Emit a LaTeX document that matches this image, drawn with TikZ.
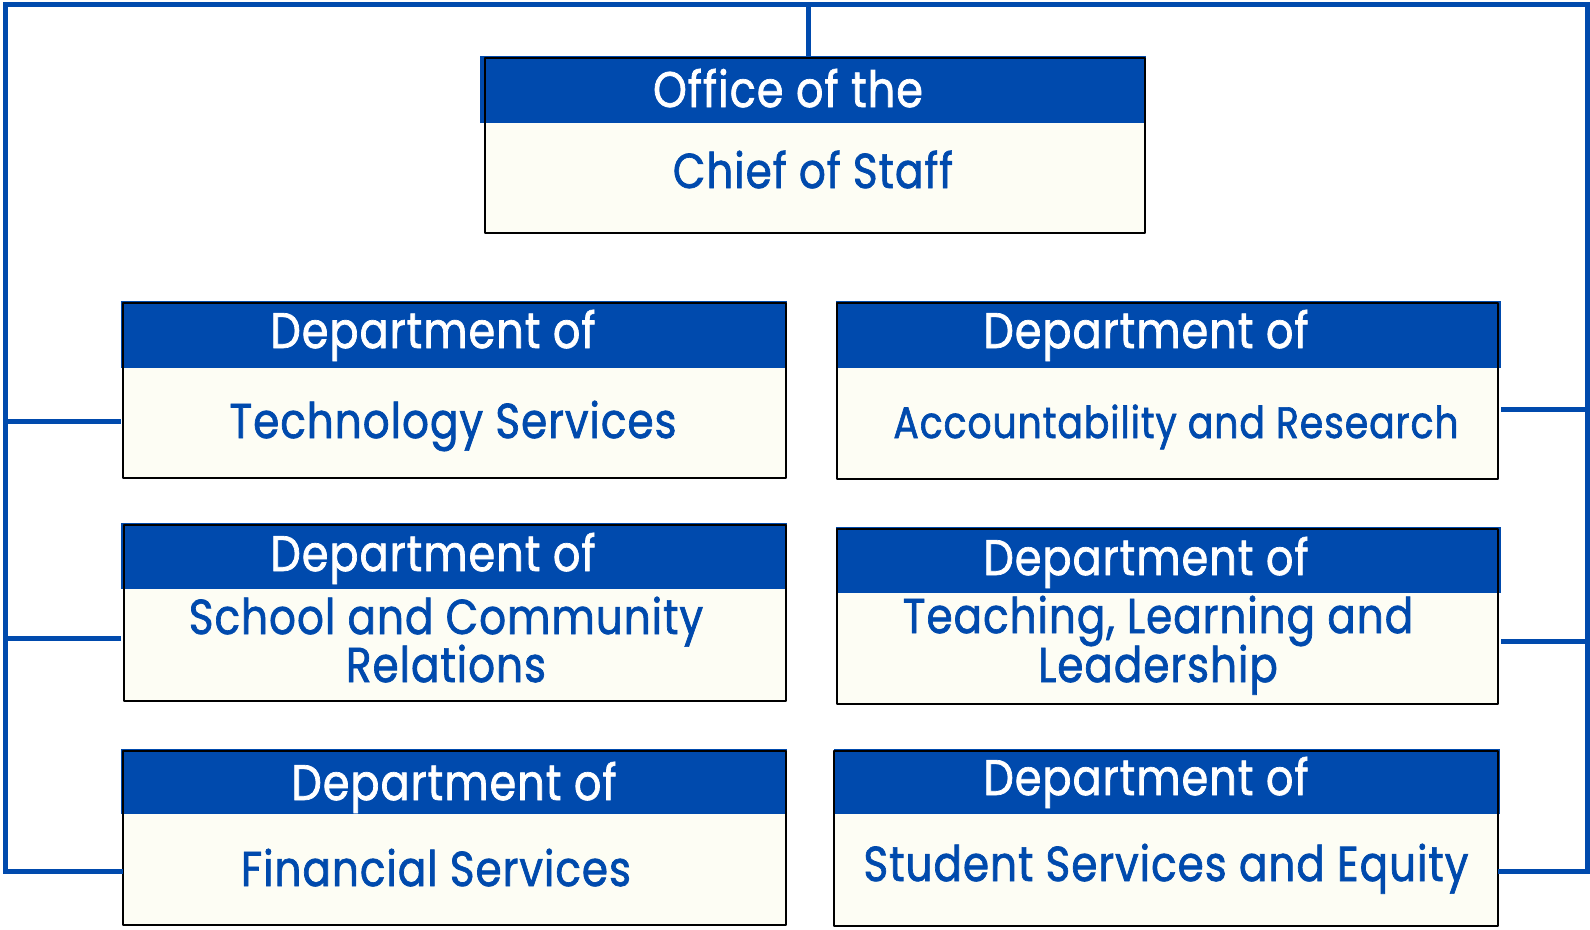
\documentclass[tikz,border=0pt]{standalone}
\usepackage{fontspec}
\setmainfont{Poppins}[FakeStretch=0.86, FakeBold=1.4, LetterSpace=2]
\definecolor{navy}{HTML}{004AAD}
\definecolor{cream}{HTML}{FDFDF4}
\tikzset{
  hdr/.style={fill=navy, draw=none, inner sep=0pt, anchor=north west},
  bodyfill/.style={fill=cream, draw=none, inner sep=0pt, anchor=north west},
  edge/.style={draw=black, line width=2pt, line join=round},
  conn/.style={draw=navy, line width=5pt, line join=miter},
  wtxt/.style={text=white, anchor=base, inner sep=0pt, font=\fontsize{50}{50}\selectfont},
  btxt/.style={text=navy, anchor=base, inner sep=0pt, font=\fontsize{49}{49}\selectfont},
}
\begin{document}
\begin{tikzpicture}[x=1pt,y=-1pt]
\useasboundingbox (0,0) rectangle (1590,929);
% top box
\node[bodyfill, minimum width=660pt, minimum height=175pt] (b0) at (485,58) {};
\node[hdr, minimum width=666pt, minimum height=67pt] (h0) at (480,56) {};
\draw[edge] (b0.north west) rectangle (b0.south east);
% row 1
\node[bodyfill, minimum width=663pt, minimum height=175pt] (b1) at (123,303) {};
\node[hdr, minimum width=666pt, minimum height=67pt] (h1) at (121,301) {};
\draw[edge] (b1.north west) rectangle (b1.south east);
\node[bodyfill, minimum width=661pt, minimum height=176pt] (b2) at (837,303) {};
\node[hdr, minimum width=665pt, minimum height=67pt] (h2) at (836,301) {};
\draw[edge] (b2.north west) rectangle (b2.south east);
% row 2
\node[bodyfill, minimum width=662pt, minimum height=176pt] (b3) at (124,525) {};
\node[hdr, minimum width=666pt, minimum height=66pt] (h3) at (121,523) {};
\draw[edge] (b3.north west) rectangle (b3.south east);
\node[bodyfill, minimum width=661pt, minimum height=175pt] (b4) at (837,529) {};
\node[hdr, minimum width=665pt, minimum height=66pt] (h4) at (836,527) {};
\draw[edge] (b4.north west) rectangle (b4.south east);
% row 3
\node[bodyfill, minimum width=663pt, minimum height=174pt] (b5) at (123,751) {};
\node[hdr, minimum width=666pt, minimum height=65pt] (h5) at (121,749) {};
\draw[edge] (b5.north west) rectangle (b5.south east);
\node[bodyfill, minimum width=664pt, minimum height=175pt] (b6) at (834,751) {};
\node[hdr, minimum width=666pt, minimum height=65pt] (h6) at (834,749) {};
\draw[edge] (b6.north west) rectangle (b6.south east);
% texts
\node[wtxt] (t0a) at (788,107) {Office of the};
\node[btxt] (t0b) at (813,188) {Chief of Staff};
\node[wtxt] (t1a) at (433,348) {Department of};
\node[btxt] (t1b) at (453,438) {Technology Services};
\node[wtxt] (t2a) at (1146,348) {Department of};
\node[btxt, font=\fontsize{44}{44}\selectfont] (t2b) at (1176,438) {Accountability and Research};
\node[wtxt] (t3a) at (433,571) {Department of};
\node[btxt] (t3b) at (446,634) {School and Community};
\node[btxt] (t3c) at (446,682) {Relations};
\node[wtxt] (t4a) at (1146,575) {Department of};
\node[btxt] (t4b) at (1158,633) {Teaching, Learning and};
\node[btxt] (t4c) at (1158,682) {Leadership};
\node[wtxt] (t5a) at (454,800) {Department of};
\node[btxt] (t5b) at (436,886) {Financial Services};
\node[wtxt] (t6a) at (1146,795) {Department of};
\node[btxt] (t6b) at (1166,881) {Student Services and Equity};
% connectors
\coordinate (TL) at (5,4);
\coordinate (TR) at (1587,4);
\coordinate (BL) at (5,871);
\coordinate (BR) at (1587,871);
\coordinate (TM) at (808,4);
\draw[conn] (b5.west |- BL) -- (BL) -- (TL) -- (TR) -- (BR) -- (b6.east |- BR);
\draw[conn] (TM) -- (TM |- h0.north);
\coordinate (L1) at (5,421);
\coordinate (L2) at (5,638);
\coordinate (R1) at (1587,409);
\coordinate (R2) at (1587,641);
\draw[conn] (L1) -- (h1.west |- L1);
\draw[conn] (L2) -- (h3.west |- L2);
\draw[conn] (R1) -- (h2.east |- R1);
\draw[conn] (R2) -- (h4.east |- R2);
\end{tikzpicture}
\end{document}
